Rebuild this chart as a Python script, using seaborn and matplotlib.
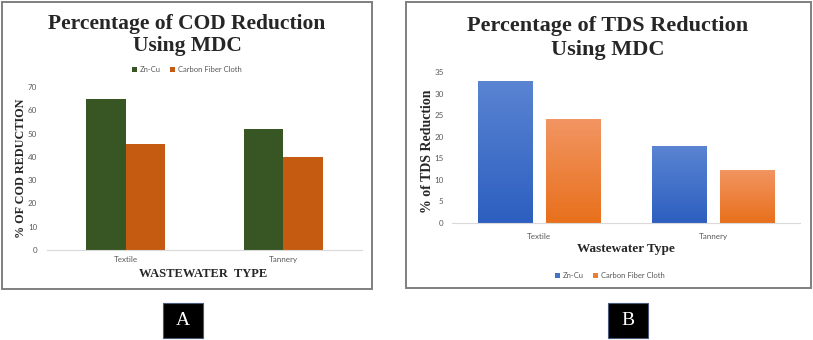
import numpy as np
import pandas as pd
import matplotlib
matplotlib.use("Agg")
import matplotlib.pyplot as plt
from matplotlib.patches import Rectangle
from matplotlib.colors import LinearSegmentedColormap, to_hex
import seaborn as sns

categories = ["Textile", "Tannery"]
series = ["Zn-Cu", "Carbon Fiber Cloth"]
cod_zncu = [65, 52]
cod_cfc = [45.5, 40]
tds_zncu = [33, 17.8]
tds_cfc = [24, 12.4]

sns.set_style("white")
plt.rcParams["font.family"] = ["Lato", "DejaVu Sans"]

W, H = 813, 340
fig = plt.figure(figsize=(W / 100, H / 100), dpi=100)
fig.patch.set_facecolor("white")


def px_axes(x0, x1, ytop, ybot):
    return fig.add_axes([x0 / W, 1 - ybot / H, (x1 - x0) / W, (ybot - ytop) / H])


def fx(x):
    return x / W


def fy(y):
    return 1 - y / H


def make_df(a, b):
    return pd.DataFrame({
        "Type": categories * 2,
        "Series": [series[0]] * 2 + [series[1]] * 2,
        "Value": list(a) + list(b),
    })


serif = "Liberation Serif"
tick_col = "#595959"

# ---------- Panel A ----------
axA = px_axes(47, 362, 87, 250)
sns.barplot(data=make_df(cod_zncu, cod_cfc), x="Type", y="Value", hue="Series",
            palette=["#375623", "#C55A11"], width=0.5, ax=axA, saturation=1,
            legend=True, edgecolor="none", linewidth=0)
axA.set_ylim(0, 70)
axA.set_yticks(range(0, 71, 10))
axA.set_xlabel("")
axA.set_ylabel("")
for s in ["top", "right", "left"]:
    axA.spines[s].set_visible(False)
axA.spines["bottom"].set_color("#d9d9d9")
axA.tick_params(axis="both", length=0, labelsize=5.8, labelcolor=tick_col)
axA.tick_params(axis="x", pad=4)
axA.tick_params(axis="y", pad=7)
hA, lA = axA.get_legend_handles_labels()
axA.legend(hA, lA, loc="center", bbox_to_anchor=(fx(187), fy(70)),
           bbox_transform=fig.transFigure, ncol=2, frameon=False,
           fontsize=5.5, labelcolor=tick_col, handlelength=0.6, handleheight=0.6,
           handletextpad=0.4, columnspacing=1.2)

fig.text(fx(187), fy(35), "Percentage of COD Reduction\nUsing MDC", ha="center",
         va="center", fontsize=15.5, fontweight="bold", family=serif,
         linespacing=1.1)
fig.text(fx(21), fy(168), "% OF COD REDUCTION", rotation=90, ha="center",
         va="center", fontsize=8.7, fontweight="bold", family=serif)
fig.text(fx(203), fy(274), "WASTEWATER  TYPE", ha="center", va="center",
         fontsize=9, fontweight="bold", family=serif)

# ---------- Panel B ----------
axB = px_axes(452, 800, 72, 223)
sns.barplot(data=make_df(tds_zncu, tds_cfc), x="Type", y="Value", hue="Series",
            palette=["#4472C4", "#ED7D31"], width=0.78, gap=0.2, ax=axB,
            saturation=1, legend=True, edgecolor="none", linewidth=0)
axB.set_ylim(0, 35)
axB.set_yticks(range(0, 36, 5))
axB.set_xlabel("")
axB.set_ylabel("")
for s in ["top", "right", "left"]:
    axB.spines[s].set_visible(False)
axB.spines["bottom"].set_color("#d9d9d9")
axB.tick_params(axis="both", length=0, labelsize=5.8, labelcolor=tick_col)
axB.tick_params(axis="x", pad=7)
axB.tick_params(axis="y", pad=6)

# gradient overlay on panel B bars
grad_cols = {
    "#4472C4": ["#2d5fc0", "#5a84d2"],
    "#ED7D31": ["#e8701c", "#f29562"],
}
for p in list(axB.patches):
    fc = to_hex(p.get_facecolor()).upper()
    key = "#4472C4" if fc == "#4472C4" else "#ED7D31"
    cmap = LinearSegmentedColormap.from_list("g", grad_cols[key])
    x0, y0 = p.get_x(), p.get_y()
    w, h = p.get_width(), p.get_height()
    if h <= 0:
        continue
    grad = np.linspace(0, 1, 100).reshape(-1, 1)
    im = axB.imshow(grad, extent=[x0, x0 + w, y0, y0 + h], origin="lower",
                    cmap=cmap, aspect="auto", zorder=p.get_zorder() + 0.1)
    im.set_clip_path(p)
axB.set_xlim(-0.5, 1.5)
axB.set_ylim(0, 35)

hB, lB = axB.get_legend_handles_labels()
axB.legend(hB, lB, loc="center", bbox_to_anchor=(fx(610), fy(276)),
           bbox_transform=fig.transFigure, ncol=2, frameon=False,
           fontsize=5.5, labelcolor=tick_col, handlelength=0.6, handleheight=0.6,
           handletextpad=0.4, columnspacing=1.2)

fig.text(fx(608), fy(38), "Percentage of TDS Reduction\nUsing MDC", ha="center",
         va="center", fontsize=16, fontweight="bold", family=serif,
         linespacing=1.3)
fig.text(fx(427), fy(151), "% of TDS Reduction", rotation=90, ha="center",
         va="center", fontsize=10, fontweight="bold", family=serif)
fig.text(fx(626), fy(249), "Wastewater Type", ha="center", va="center",
         fontsize=9.5, fontweight="bold", family=serif)

# ---------- panel borders ----------
for (x0, y0, x1, y1) in [(2, 2, 372, 289), (406, 2, 811, 288)]:
    fig.add_artist(Rectangle((fx(x0), fy(y1)), fx(x1 - x0), (y1 - y0) / H,
                             transform=fig.transFigure, fill=False,
                             edgecolor="#7f7f7f", linewidth=1.4))

# ---------- A / B labels ----------
for (x0, lab) in [(163, "A"), (608, "B")]:
    fig.add_artist(Rectangle((fx(x0), fy(338)), fx(40), 35 / H,
                             transform=fig.transFigure, facecolor="black",
                             edgecolor="#4a5a7a", linewidth=0.8))
    fig.text(fx(x0 + 20), fy(320.5), lab, ha="center", va="center",
             color="white", fontsize=14, family=serif)

fig.savefig("out.png", dpi=100, facecolor="white")
